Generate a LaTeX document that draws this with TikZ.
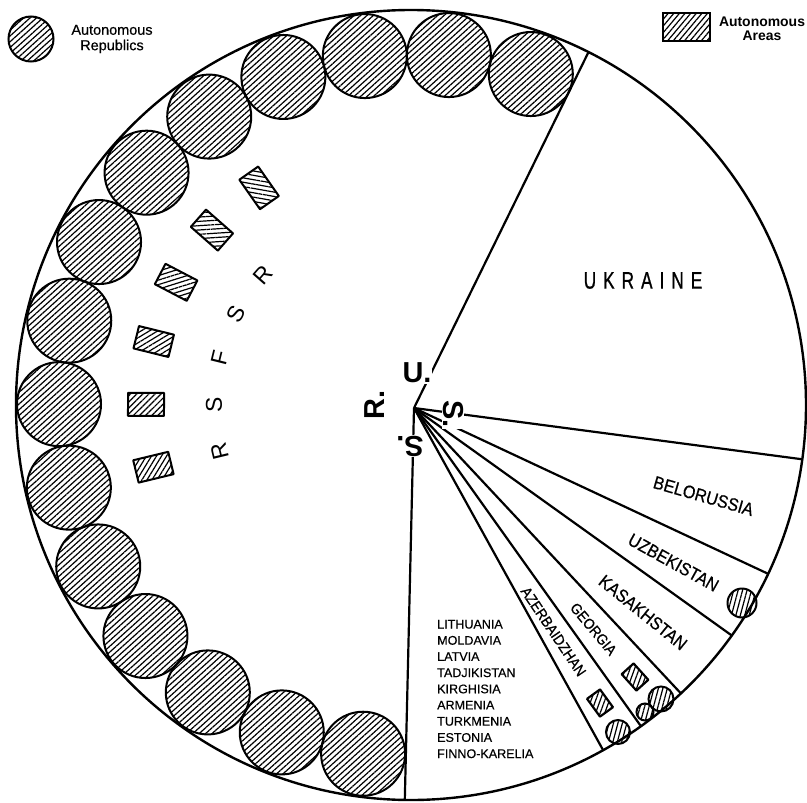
\documentclass[tikz,border=0pt]{standalone}
\usepackage{fontspec}
\setmainfont{Liberation Sans}
\newfontfamily\labfont[FakeStretch=0.9,FakeBold=0.6]{Liberation Sans}
\newfontfamily\ukrfont[FakeStretch=0.72,FakeBold=0.8]{Liberation Sans}
\newfontfamily\legfont[FakeBold=0.4]{Liberation Sans}
\usetikzlibrary{calc,patterns.meta}
\newcommand\lsp{\hspace{7bp}}
\begin{document}
\begin{tikzpicture}[x=1bp,y=-1bp,
  hatch/.style={pattern={Lines[angle=#1,distance=4.3bp,line width=1.2bp]}},
  radial/.style={line width=2.2bp},
  rep/.style={circle,draw,line width=2bp,minimum size=84bp,inner sep=0pt,hatch=42},
  areaedge/.style={draw,line width=2bp,line join=round},
  smallrep/.style={circle,draw,line width=2bp,inner sep=0pt,minimum size=#1},
  lab/.style={font=\labfont\fontsize{18}{18}\selectfont,inner sep=0pt},
  labs/.style={font=\labfont\fontsize{15}{15}\selectfont,inner sep=0pt},
  ussr/.style={font=\bfseries\fontsize{29}{29}\selectfont,fill=white,inner sep=1bp},
  rsfsr/.style={font=\fontsize{23}{23}\selectfont,inner sep=0pt},
]
\useasboundingbox (0,0) rectangle (807,803);
\coordinate (C) at (411,405);
\coordinate (H) at (414,408);
% big circle
\node[circle,draw,line width=2.4bp,minimum size=790bp,inner sep=0pt] (big) at (C) {};
% radial lines
\coordinate (e1) at ($(C)+(-63.3:395)$);
\coordinate (e2) at ($(C)+(7.9:395)$);
\coordinate (e3) at ($(C)+(25.3:395)$);
\coordinate (e4) at ($(C)+(35.7:395)$);
\coordinate (e5) at ($(C)+(46.9:395)$);
\coordinate (e6) at ($(C)+(54.4:395)$);
\coordinate (e7) at ($(C)+(60.9:395)$);
\coordinate (e8) at ($(C)+(90.9:395)$);
\foreach \e in {e1,e2,e3,e4,e5,e6,e7,e8} \draw[radial] (H) -- (\e);
% autonomous republics of RSFSR
\foreach \i in {0,...,14}{
  \pgfmathsetmacro\ang{70.1+13.72*\i}
  \node[rep] (ar\i) at ($(C)+(-\ang:352)$) {};
}
% autonomous areas of RSFSR: boxes drawn as paths, long side radial
\foreach \i in {4,...,9}{
  \pgfmathsetmacro\na{-70.1-13.72*\i}
  \pgfmathsetmacro\pa{\na+90}
  \pgfmathsetmacro\pb{\na-90}
  \pgfmathsetmacro\ha{-\na-135}
  \coordinate (aa\i) at ($(C)+(\na:265)$);
  \draw[areaedge,hatch=\ha] ($(aa\i)+(\na:18)+(\pa:11.5)$) -- ($(aa\i)+(\na:18)+(\pb:11.5)$)
     -- ($(aa\i)+(\na:-18)+(\pb:11.5)$) -- ($(aa\i)+(\na:-18)+(\pa:11.5)$) -- cycle;
}
% R S F S R
\foreach \L [count=\j from 5] in {R,S,F,S,R}{
  \pgfmathsetmacro\ang{70.1+13.72*\j}
  \pgfmathsetmacro\rot{\ang-90}
  \node[rsfsr,rotate=\rot] (rs\j) at ($(C)+(-\ang:197)$) {\L};
}
% U.S.S.R.
\node[ussr] (uU) at (417,372.5) {U.};
\node[ussr,rotate=-90] (uS1) at (453,414) {S.};
\node[ussr,rotate=180] (uS2) at (410,446) {S.};
\node[ussr,rotate=90] (uR) at (375,405) {R.};
% republic labels
\node (ukr) at (643,280.5) {\ukrfont\fontsize{24}{24}\selectfont U\lsp K\lsp R\lsp A\lsp I\lsp N\lsp E};
\node[lab,rotate=-16] (bel) at (703.5,496) {BELORUSSIA};
\node[lab,rotate=-29] (uzb) at (673.5,562.5) {UZBEKISTAN};
\node[lab,rotate=-39] (kas) at (643,612.5) {KASAKHSTAN};
\node[labs,rotate=-50] (geo) at (593.5,629) {GEORGIA};
\node[labs,rotate=-56] (aze) at (553.5,631.5) {AZERBAIDZHAN};
\node[anchor=west,align=left,inner sep=0pt,font=\legfont\fontsize{12.6}{16.25}\selectfont] (others) at (437,689)
  {LITHUANIA\\MOLDAVIA\\LATVIA\\TADJIKISTAN\\KIRGHISIA\\ARMENIA\\TURKMENIA\\ESTONIA\\FINNO-KARELIA};
% small autonomous units
\node[smallrep=29bp,hatch=75] (uzc) at (742,603) {};
\coordinate (geor) at (635,677);
\draw[areaedge,line width=2.2bp,hatch=70] ($(geor)+(48:11)+(138:8)$) -- ($(geor)+(48:11)+(-42:8)$)
   -- ($(geor)+(48:-11)+(-42:8)$) -- ($(geor)+(48:-11)+(138:8)$) -- cycle;
\node[smallrep=25bp,hatch=75] (geoc1) at (661,699) {};
\node[smallrep=17bp,hatch=75] (geoc2) at (645,712) {};
\coordinate (azr) at (600,703);
\draw[areaedge,line width=2.2bp,hatch=70] ($(azr)+(54:11)+(144:8)$) -- ($(azr)+(54:11)+(-36:8)$)
   -- ($(azr)+(54:-11)+(-36:8)$) -- ($(azr)+(54:-11)+(144:8)$) -- cycle;
\node[smallrep=24bp,hatch=75] (azc) at (618,732) {};
% legends
\node[circle,draw,line width=2bp,minimum size=45bp,inner sep=0pt,hatch=42] (legR) at (31,39) {};
\node[align=center,inner sep=0pt,font=\legfont\fontsize{14.5}{15.5}\selectfont] (legRt) at (112,39) {Autonomous\\Republics};
\node[rectangle,draw,line width=2bp,minimum width=47bp,minimum height=28bp,inner sep=0pt,hatch=50] (legA) at (686.5,27) {};
\node[align=center,inner sep=0pt,font=\bfseries\fontsize{14}{14.5}\selectfont] (legAt) at (762,29) {Autonomous\\Areas};
\end{tikzpicture}
\end{document}
